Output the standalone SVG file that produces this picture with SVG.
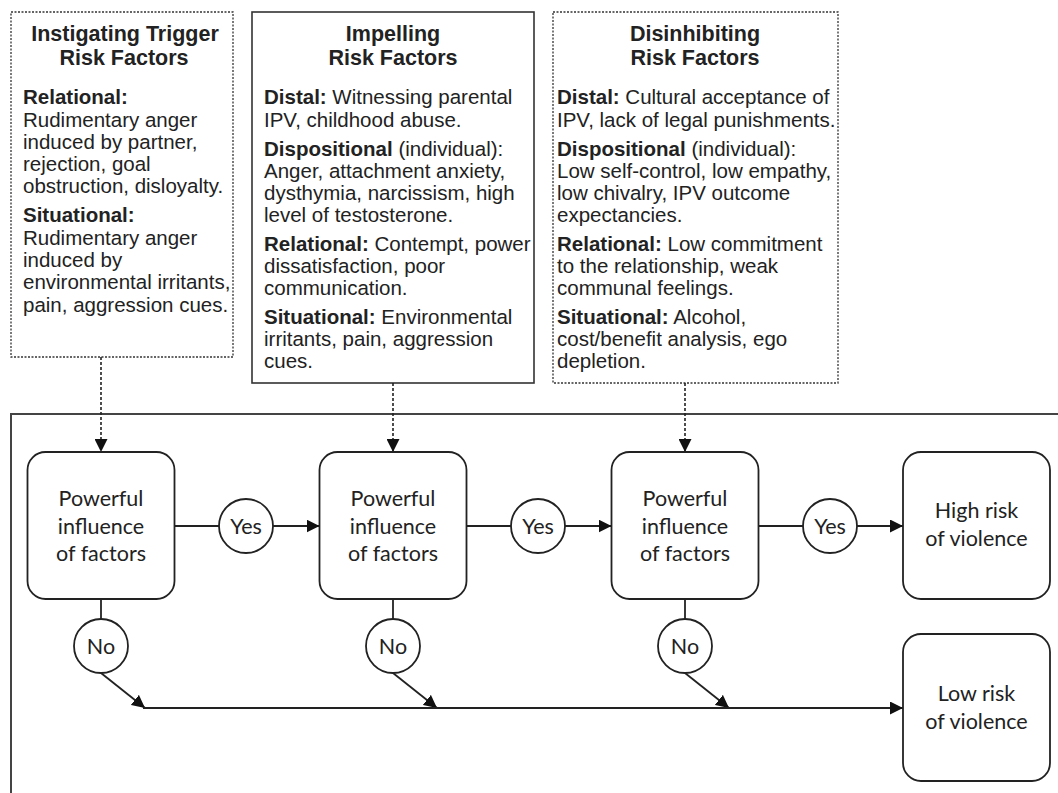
<svg xmlns="http://www.w3.org/2000/svg" width="1058" height="793" viewBox="0 0 1058 793">
<defs>
<style>
.hd{font-family:"Liberation Sans",Arial,sans-serif;font-weight:bold;font-size:21.5px;fill:#222;text-anchor:middle}
.bd{font-family:"Liberation Sans",Arial,sans-serif;font-size:20.5px;fill:#222}
.b{font-weight:bold}
.fl{font-family:Lato,"Open Sans",sans-serif;font-size:21.5px;fill:#222;text-anchor:middle}
.dot{fill:#fff;stroke:#333;stroke-width:1.3;stroke-dasharray:2 1.5}
.sol{fill:#fff;stroke:#333;stroke-width:1.6}
.nd{fill:#fff;stroke:#222;stroke-width:1.8}
.ln{fill:none;stroke:#222;stroke-width:1.8}
.dc{fill:none;stroke:#222;stroke-width:1.6;stroke-dasharray:3 2}
</style>
<marker id="ah" viewBox="0 0 12 12" refX="12" refY="6" markerWidth="13" markerHeight="13" markerUnits="userSpaceOnUse" orient="auto"><path d="M0,0 L12,6 L0,12 z" fill="#111"/></marker>
</defs>
<rect width="1058" height="793" fill="#fff"/>
<rect id="frame" x="11" y="414" width="1060" height="400" fill="none" stroke="#444" stroke-width="2"/>

<g id="box-instigating">
<rect class="dot" x="11" y="12" width="222" height="345"/>
<text class="hd" x="125" y="41">Instigating Trigger</text>
<text class="hd" x="124" y="65">Risk Factors</text>
<text class="bd" x="23" y="104"><tspan class="b">Relational:</tspan></text>
<text class="bd" x="23" y="126.5">Rudimentary anger</text>
<text class="bd" x="23" y="149">induced by partner,</text>
<text class="bd" x="23" y="171">rejection, goal</text>
<text class="bd" x="23" y="193">obstruction, disloyalty.</text>
<text class="bd" x="23" y="222"><tspan class="b">Situational:</tspan></text>
<text class="bd" x="23" y="244.5">Rudimentary anger</text>
<text class="bd" x="23" y="267">induced by</text>
<text class="bd" x="23" y="289">environmental irritants,</text>
<text class="bd" x="23" y="311.5">pain, aggression cues.</text>
</g>

<g id="box-impelling">
<rect class="sol" x="252" y="12" width="282" height="371"/>
<text class="hd" x="393" y="41">Impelling</text>
<text class="hd" x="393" y="65">Risk Factors</text>
<text class="bd" x="264" y="104"><tspan class="b">Distal:</tspan> Witnessing parental</text>
<text class="bd" x="264" y="127">IPV, childhood abuse.</text>
<text class="bd" x="264" y="156"><tspan class="b">Dispositional</tspan> (individual):</text>
<text class="bd" x="264" y="178">Anger, attachment anxiety,</text>
<text class="bd" x="264" y="200">dysthymia, narcissism, high</text>
<text class="bd" x="264" y="222">level of testosterone.</text>
<text class="bd" x="264" y="251"><tspan class="b">Relational:</tspan> Contempt, power</text>
<text class="bd" x="264" y="273">dissatisfaction, poor</text>
<text class="bd" x="264" y="295">communication.</text>
<text class="bd" x="264" y="324"><tspan class="b">Situational:</tspan> Environmental</text>
<text class="bd" x="264" y="346">irritants, pain, aggression</text>
<text class="bd" x="264" y="368">cues.</text>
</g>

<g id="box-disinhibiting">
<rect class="dot" x="553" y="12" width="285" height="371"/>
<text class="hd" x="695" y="41">Disinhibiting</text>
<text class="hd" x="695" y="65">Risk Factors</text>
<text class="bd" x="557" y="104"><tspan class="b">Distal:</tspan> Cultural acceptance of</text>
<text class="bd" x="557" y="127">IPV, lack of legal punishments.</text>
<text class="bd" x="557" y="156"><tspan class="b">Dispositional</tspan> (individual):</text>
<text class="bd" x="557" y="178">Low self-control, low empathy,</text>
<text class="bd" x="557" y="200">low chivalry, IPV outcome</text>
<text class="bd" x="557" y="222">expectancies.</text>
<text class="bd" x="557" y="251"><tspan class="b">Relational:</tspan> Low commitment</text>
<text class="bd" x="557" y="273">to the relationship, weak</text>
<text class="bd" x="557" y="295">communal feelings.</text>
<text class="bd" x="557" y="324"><tspan class="b">Situational:</tspan> Alcohol,</text>
<text class="bd" x="557" y="346">cost/benefit analysis, ego</text>
<text class="bd" x="557" y="368">depletion.</text>
</g>

<g id="connectors">
<path class="dc" d="M101,357 V452" marker-end="url(#ah)"/>
<path class="dc" d="M393,383 V452" marker-end="url(#ah)"/>
<path class="dc" d="M685,383 V452" marker-end="url(#ah)"/>
<path class="ln" d="M174.5,526 H219"/>
<path class="ln" d="M273,526 H319.5" marker-end="url(#ah)"/>
<path class="ln" d="M466.5,526 H511.5"/>
<path class="ln" d="M565,526 H611.5" marker-end="url(#ah)"/>
<path class="ln" d="M758.5,526 H803"/>
<path class="ln" d="M857,526 H903" marker-end="url(#ah)"/>
<path class="ln" d="M101,599 V619"/>
<path class="ln" d="M393,599 V619"/>
<path class="ln" d="M685,599 V619"/>
<path class="ln" d="M101,673 L145,708" marker-end="url(#ah)"/>
<path class="ln" d="M393,673 L437,708" marker-end="url(#ah)"/>
<path class="ln" d="M685,673 L729,708" marker-end="url(#ah)"/>
<path class="ln" d="M143,708 H903" marker-end="url(#ah)"/>
</g>

<g id="decision-1">
<rect class="nd" x="27.5" y="452" width="147" height="147" rx="18"/>
<text class="fl" x="101" y="506">Powerful</text>
<text class="fl" x="101" y="533.5">influence</text>
<text class="fl" x="101" y="561">of factors</text>
</g>
<g id="decision-2">
<rect class="nd" x="319.5" y="452" width="147" height="147" rx="18"/>
<text class="fl" x="393" y="506">Powerful</text>
<text class="fl" x="393" y="533.5">influence</text>
<text class="fl" x="393" y="561">of factors</text>
</g>
<g id="decision-3">
<rect class="nd" x="611.5" y="452" width="147" height="147" rx="18"/>
<text class="fl" x="685" y="506">Powerful</text>
<text class="fl" x="685" y="533.5">influence</text>
<text class="fl" x="685" y="561">of factors</text>
</g>
<g id="high-risk">
<rect class="nd" x="903" y="452" width="147" height="147" rx="18"/>
<text class="fl" x="976.5" y="518">High risk</text>
<text class="fl" x="976.5" y="546">of violence</text>
</g>
<g id="low-risk">
<rect class="nd" x="903" y="634" width="147" height="147" rx="18"/>
<text class="fl" x="976.5" y="701">Low risk</text>
<text class="fl" x="976.5" y="729">of violence</text>
</g>
<g id="yes-1"><circle class="nd" cx="246" cy="526" r="27"/><text class="fl" x="246" y="533.5">Yes</text></g>
<g id="yes-2"><circle class="nd" cx="538" cy="526" r="27"/><text class="fl" x="538" y="533.5">Yes</text></g>
<g id="yes-3"><circle class="nd" cx="830" cy="526" r="27"/><text class="fl" x="830" y="533.5">Yes</text></g>
<g id="no-1"><circle class="nd" cx="101" cy="646" r="27"/><text class="fl" x="101" y="653.5">No</text></g>
<g id="no-2"><circle class="nd" cx="393" cy="646" r="27"/><text class="fl" x="393" y="653.5">No</text></g>
<g id="no-3"><circle class="nd" cx="685" cy="646" r="27"/><text class="fl" x="685" y="653.5">No</text></g>
</svg>
